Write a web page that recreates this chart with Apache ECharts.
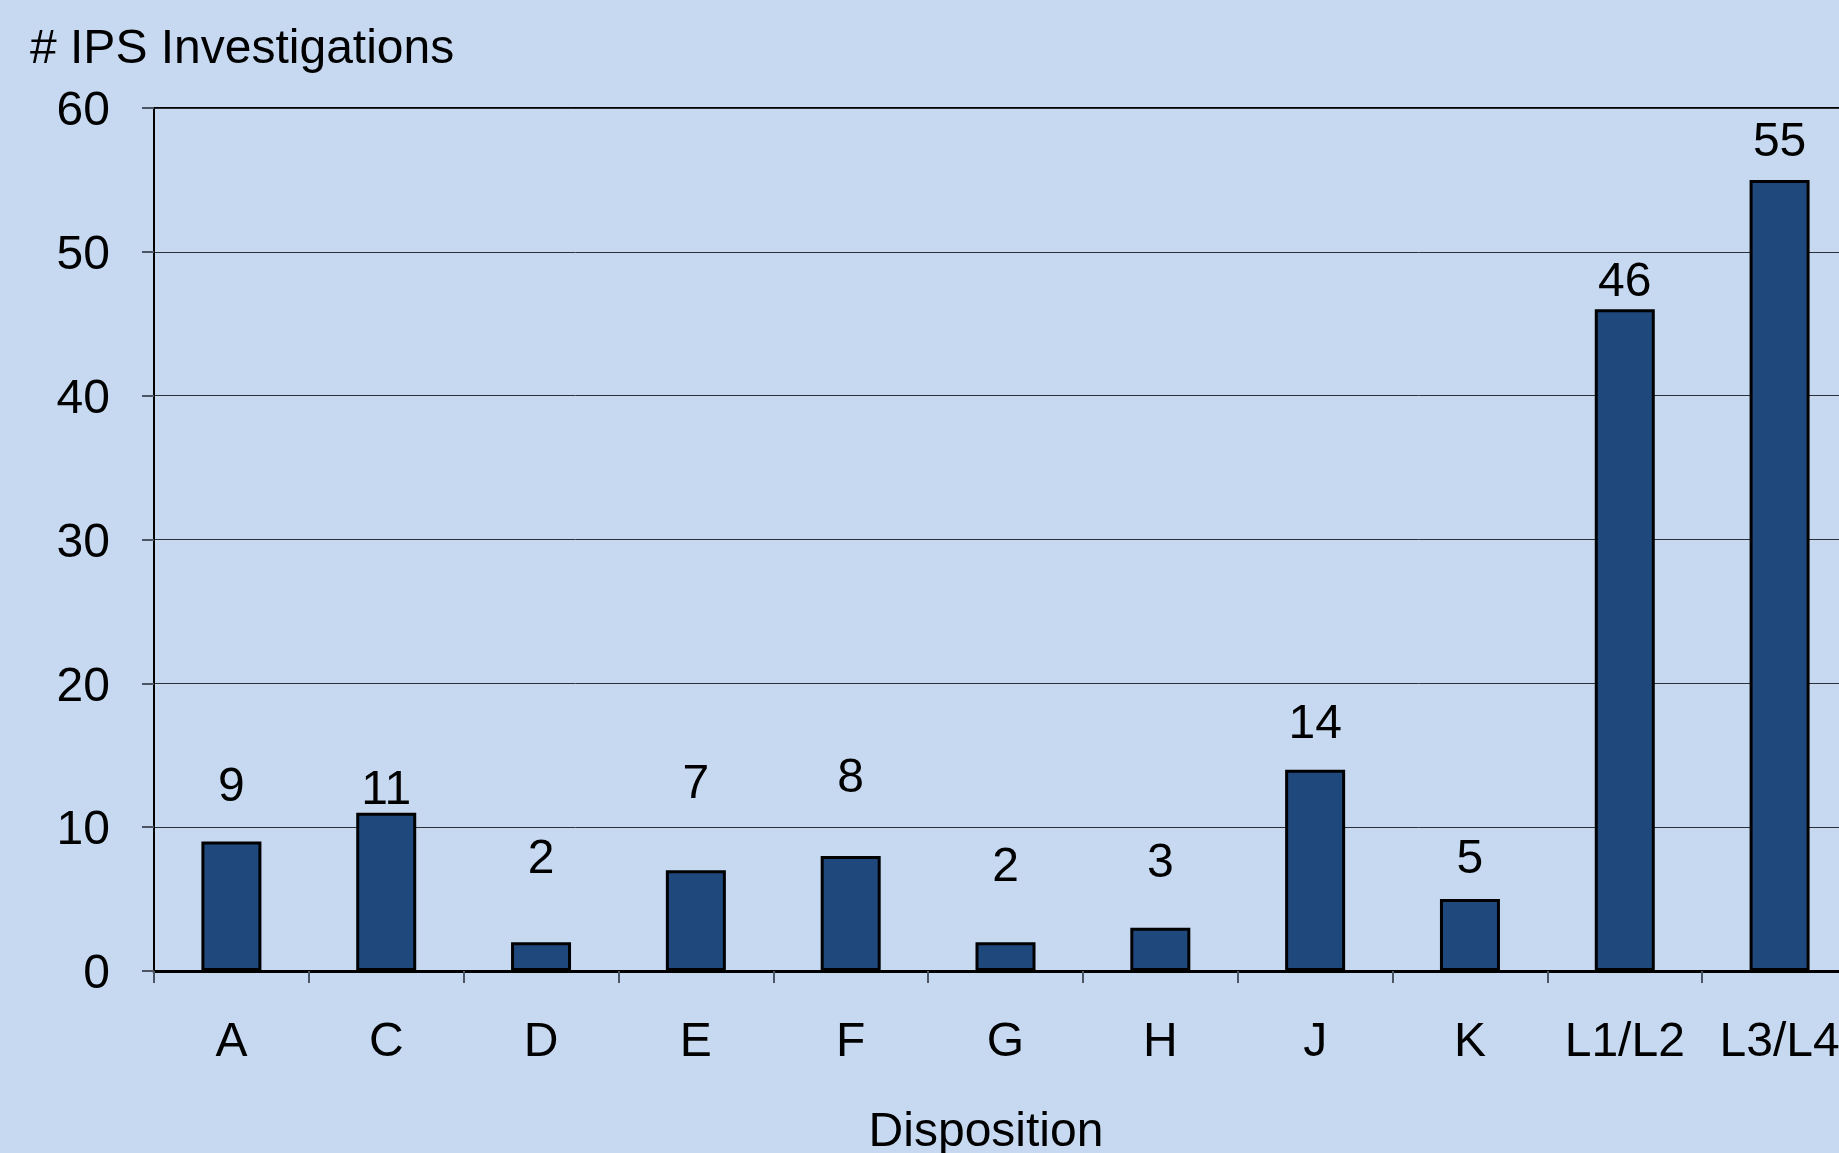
<!DOCTYPE html>
<html>
<head>
<meta charset="utf-8">
<script src="https://cdn.jsdelivr.net/npm/echarts@6/dist/echarts.min.js"></script>
<style>
  html, body { margin: 0; padding: 0; background: #c6d9f1; }
  #chart { width: 1839px; height: 1153px; }
</style>
</head>
<body>
<div id="chart"></div>
<script>
// 数据
const categories = ["A", "C", "D", "E", "F", "G", "H", "J", "K", "L1/L2", "L3/L4"];
const investigations = [9, 11, 2, 7, 8, 2, 3, 14, 5, 46, 55];
const yTicks = [0, 10, 20, 30, 40, 50, 60];

// label distance above each bar (labels were placed by hand in the original)
const labelGap = [30, -2, 58, 62, 53, 50, 40, 21, 15, 3, 13];

const FONT = "Liberation Sans, Arial, sans-serif";
const FS = 48;
const chart = echarts.init(document.getElementById("chart"));

const option = {
  backgroundColor: "#c6d9f1",
  animation: false,
  grid: {
    left: 154,
    top: 108,
    width: 1703,
    height: 863,
    show: true,
    borderColor: "#000",
    borderWidth: 2,
    backgroundColor: "transparent",
    outerBoundsMode: "none"
  },
  graphic: [
    {
      type: "text",
      left: 30,
      top: 26,
      style: { text: "# IPS Investigations", font: FS + "px " + FONT, fill: "#000" }
    },
    {
      type: "text",
      x: 986,
      y: 1133,
      style: {
        text: "Disposition",
        font: FS + "px " + FONT,
        fill: "#000",
        align: "center",
        verticalAlign: "middle"
      }
    }
  ],
  xAxis: {
    type: "category",
    data: categories,
    axisLine: { lineStyle: { color: "#000", width: 3 } },
    axisTick: { show: true, length: 12, lineStyle: { color: "#4b5563", width: 2 } },
    axisLabel: { interval: 0, margin: 48, fontSize: FS, fontFamily: FONT, color: "#000" }
  },
  yAxis: {
    type: "value",
    min: yTicks[0],
    max: yTicks[yTicks.length - 1],
    interval: yTicks[1] - yTicks[0],
    axisLine: { show: true, lineStyle: { color: "#000", width: 2 } },
    axisTick: { show: true, length: 12, lineStyle: { color: "#4b5563", width: 2 } },
    axisLabel: {
      margin: 44,
      formatter: "{v|{value}}",
      rich: {
        v: { fontSize: FS, fontFamily: FONT, color: "#000", padding: [8, 0, 0, 0] }
      }
    },
    splitLine: { lineStyle: { color: "#2b2f36", width: 1 } }
  },
  series: [
    {
      type: "bar",
      barWidth: 60,
      data: investigations.map((v, i) => ({ value: v, label: { distance: labelGap[i] } })),
      itemStyle: { color: "#1f497d", borderColor: "#000", borderWidth: 3 },
      label: {
        show: true,
        position: "top",
        fontSize: FS,
        fontFamily: FONT,
        color: "#000"
      }
    }
  ]
};

chart.setOption(option);
</script>
</body>
</html>
